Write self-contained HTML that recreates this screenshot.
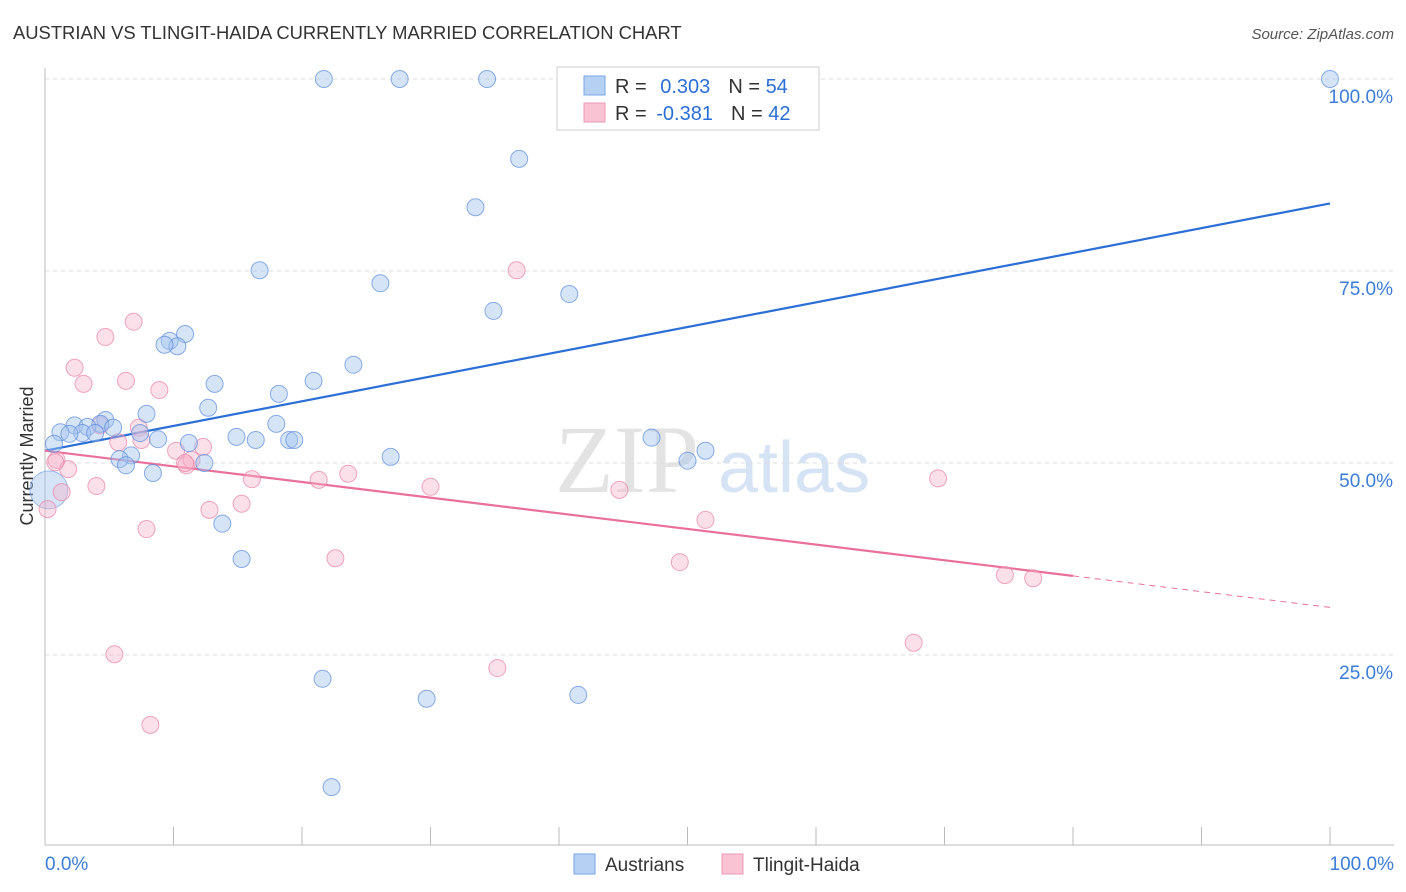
<!DOCTYPE html>
<html><head><meta charset="utf-8"><style>
body{margin:0;background:#fff;font-family:"Liberation Sans",sans-serif;}
</style></head><body>
<svg id="chart" width="1406" height="892" xmlns="http://www.w3.org/2000/svg" style="display:block">
<text x="13" y="39" font-size="18.4" fill="#333">AUSTRIAN VS TLINGIT-HAIDA CURRENTLY MARRIED CORRELATION CHART</text>
<text x="1394" y="39" font-size="15" fill="#555" text-anchor="end" font-style="italic">Source: ZipAtlas.com</text>
<text transform="translate(33,456) rotate(-90)" font-size="18" fill="#333" text-anchor="middle">Currently Married</text>
<g>
<text x="555" y="492" font-size="96" fill="#e3e3e3" font-family="Liberation Serif,serif">ZIP</text>
<text x="718" y="492" font-size="72" fill="#d5e3f5">atlas</text>
</g>
<g id="grid"></g><g id="axes"></g><g id="trend"></g><g id="pts"></g>
<g>
<rect x="557" y="67" width="262" height="63" fill="#fff" stroke="#ccc"/>
<rect x="584" y="76" width="21" height="19" fill="#b5d0f3" stroke="#7aa6e3"/>
<rect x="584" y="103" width="21" height="19" fill="#f9c3d3" stroke="#eb9ab5"/>
<text x="615" y="93" font-size="20" fill="#333">R = <tspan fill="#2b6fd6" dx="8">0.303</tspan><tspan dx="18" fill="#333">N = </tspan><tspan fill="#2b6fd6">54</tspan></text>
<text x="615" y="120" font-size="20" fill="#333">R = <tspan fill="#2b6fd6" dx="4">-0.381</tspan><tspan dx="18" fill="#333">N = </tspan><tspan fill="#2b6fd6">42</tspan></text>
</g>
<g>
<rect x="574" y="854" width="21" height="20" fill="#b5d0f3" stroke="#7aa6e3"/>
<text x="605" y="871" font-size="19" fill="#333">Austrians</text>
<rect x="722" y="854" width="21" height="20" fill="#f9c3d3" stroke="#eb9ab5"/>
<text x="753" y="871" font-size="19" fill="#333">Tlingit-Haida</text>
</g>
</svg>
<script>
const blueX=[21.7,27.6,34.4,100,36.9,33.5,16.7,26.1,40.8,34.9,10.9,9.7,10.3,9.3,24.0,13.2,20.9,18.2,12.7,7.9,4.7,2.3,4.3,3.3,5.3,1.2,2.9,1.9,7.4,3.9,8.8,14.9,16.4,19.0,19.4,11.2,0.7,6.7,5.8,12.4,6.3,8.4,26.9,47.2,51.4,50.0,13.8,15.3,21.6,29.7,41.5,22.3,18.0];
const blueY=[100,100,100,100,89.6,83.3,75.1,73.4,72.0,69.8,66.8,65.9,65.2,65.4,62.8,60.3,60.7,59.0,57.2,56.4,55.6,54.9,55.1,54.7,54.6,54.0,53.9,53.8,53.9,53.9,53.1,53.4,53.0,53.0,53.0,52.6,52.5,51.0,50.5,50.0,49.7,48.7,50.8,53.3,51.6,50.3,42.1,37.5,21.9,19.3,19.8,7.8,55.1];
const pinkX=[36.7,6.9,4.7,2.3,3.0,6.3,8.9,4.3,7.3,5.7,7.5,12.3,10.2,0.9,11.0,11.4,1.8,16.1,21.3,23.6,30.0,4.0,1.3,0.2,15.3,12.8,7.9,22.6,44.7,51.4,49.4,69.5,74.7,76.9,67.6,35.2,5.4,8.2,10.9,0.8];
const pinkY=[75.1,68.4,66.4,62.4,60.3,60.7,59.5,54.9,54.6,52.7,53.0,52.1,51.6,50.4,49.7,50.4,49.2,47.9,47.8,48.6,46.9,47.0,46.2,44.0,44.7,43.9,41.4,37.6,46.5,42.6,37.1,48.0,35.4,35.0,26.6,23.3,25.1,15.9,50.0,50.1];
const bigBlue=[0.3,46.5];
const blueTrend=[51.6,83.8];
const pinkTrend=[51.6,35.3,31.2];
const yTicks=[25,50,75,100];
const NS="http://www.w3.org/2000/svg";
const sx=v=>45+v*12.85, sy=v=>847-v*7.68;
function mk(tag,attrs,parent){const e=document.createElementNS(NS,tag);for(const k in attrs)e.setAttribute(k,attrs[k]);document.getElementById(parent).appendChild(e);return e;}
yTicks.forEach(t=>{
 const g=mk('line',{x1:45,x2:1394,y1:sy(t),y2:sy(t),stroke:'#ddd','stroke-dasharray':'4,4'},'grid');
 
 
 const l=mk('text',{x:1393,y:sy(t)+24,'font-size':19,fill:'#3b7dd8','text-anchor':'end'},'axes');
 l.textContent=t.toFixed(1)+'%';
 
 
});
const ax=mk('line',{x1:45,x2:1394,y1:845,y2:845,stroke:'#bbb'},'axes');


const ay=mk('line',{x1:45,x2:45,y1:68,y2:845,stroke:'#bbb'},'axes');


for(let i=0;i<=10;i++){const t=mk('line',{x1:sx(i*10),x2:sx(i*10),y1:827,y2:845,stroke:'#bbb'},'axes');
 
 }
[[0,'0.0%','start',45],[100,'100.0%','end',1394]].forEach(a=>{const l=mk('text',{x:a[3],y:870,'font-size':19,fill:'#3b7dd8','text-anchor':a[2]},'axes');l.textContent=a[1];
 
 });
let tl=mk('line',{x1:sx(0),y1:sy(blueTrend[0]),x2:sx(100),y2:sy(blueTrend[1]),stroke:'#2b6fd6','stroke-width':2.2},'trend');


tl=mk('line',{x1:sx(0),y1:sy(pinkTrend[0]),x2:sx(80),y2:sy(pinkTrend[1]),stroke:'#e8709a','stroke-width':2.2},'trend');


tl=mk('line',{x1:sx(80),y1:sy(pinkTrend[1]),x2:sx(100),y2:sy(pinkTrend[2]),stroke:'#e8709a','stroke-width':1,'stroke-dasharray':'6,5'},'trend');


const bb=mk('circle',{cx:sx(bigBlue[0]),cy:sy(bigBlue[1]),r:19,fill:'rgba(165,196,240,0.45)',stroke:'rgba(100,150,225,0.6)'},'pts');


pinkX.forEach((x,i)=>{const c=mk('circle',{cx:sx(x),cy:sy(pinkY[i]),r:8.5,fill:'rgba(247,178,200,0.4)',stroke:'rgba(232,130,165,0.7)','stroke-width':1},'pts');
 
 });
blueX.forEach((x,i)=>{const c=mk('circle',{cx:sx(x),cy:sy(blueY[i]),r:8.5,fill:'rgba(165,196,240,0.45)',stroke:'rgba(90,140,220,0.7)','stroke-width':1},'pts');
 
 });
</script>
</body></html>
